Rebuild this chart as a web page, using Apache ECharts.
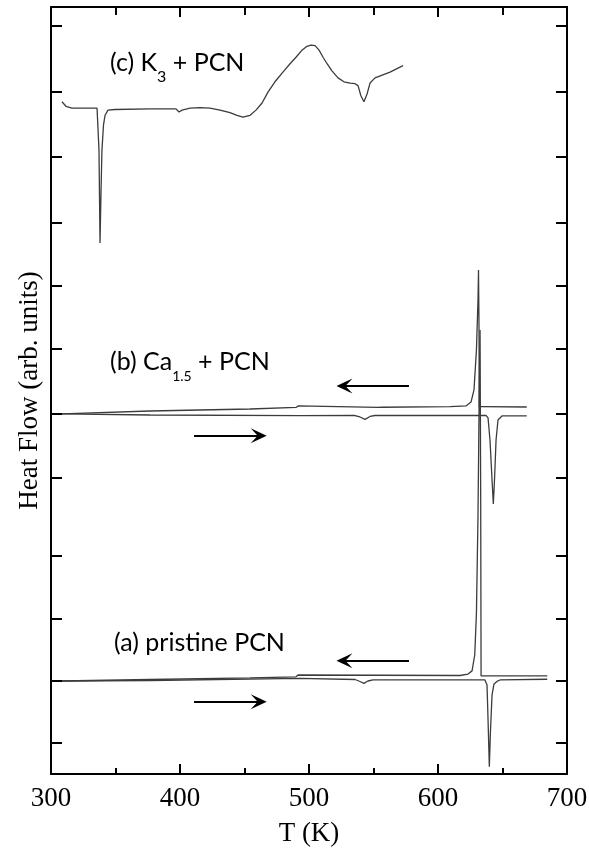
<!DOCTYPE html>
<html>
<head>
<meta charset="utf-8">
<script src="https://cdn.jsdelivr.net/npm/echarts@6/dist/echarts.min.js"></script>
<style>
html, body { margin: 0; padding: 0; background: #fff; }
#chart { width: 589px; height: 849px; }
</style>
</head>
<body>
<div id="chart"></div>
<script>
// DSC scans: temperature (K) and heat flow (arb. units, stacked offsets)
const k3T  = [308.5, 311.6, 316.3, 330.2, 335.7, 336.7, 337.2, 338.0, 338.8, 339.5, 340.7, 341.9, 344.2, 349.6,
              376.7, 396.9, 399.2, 400.0, 401.6, 407.8, 415.5, 423.3, 431.0, 438.8, 444.2, 448.8, 454.3, 458.9,
              463.6, 468.2, 473.6, 479.8, 485.3, 489.9, 494.6, 498.4, 501.6, 504.7, 507.8, 510.9, 514.0, 517.8,
              522.5, 527.1, 531.8, 535.7, 538.0, 540.3, 542.6, 545.0, 547.3, 551.2, 562.8, 572.9];
const k3HF = [10.43, 10.36, 10.33, 10.33, 10.33, 10.32, 9.68, 8.24, 9.06, 9.68, 10.07, 10.22, 10.30, 10.31,
              10.32, 10.32, 10.27, 10.26, 10.30, 10.33, 10.34, 10.33, 10.30, 10.26, 10.22, 10.19, 10.22, 10.30,
              10.41, 10.58, 10.74, 10.89, 11.02, 11.12, 11.23, 11.29, 11.31, 11.30, 11.23, 11.12, 11.02, 10.91,
              10.80, 10.74, 10.72, 10.71, 10.68, 10.52, 10.43, 10.55, 10.72, 10.80, 10.89, 10.99];

const caCoolT  = [308.5, 376.7, 454.3, 489.9, 491.5, 493.0, 553.5, 555.0, 556.6, 609.3, 621.7, 625.6, 627.9,
                  629.8, 631.0, 631.4, 631.8, 632.0, 634.1, 668.8];
const caCoolHF = [5.586, 5.632, 5.663, 5.687, 5.710, 5.690, 5.687, 5.702, 5.690, 5.699, 5.71, 5.77, 5.96,
                  6.58, 7.35, 7.82, 6.89, 5.70, 5.70, 5.694];

const caHeatT  = [308.5, 376.7, 493.0, 535.7, 539.5, 543.4, 547.3, 551.2, 637.2, 638.8, 640.3, 641.9, 642.9,
                  643.8, 645.0, 646.5, 649.6, 668.8];
const caHeatHF = [5.586, 5.570, 5.559, 5.562, 5.539, 5.503, 5.547, 5.562, 5.565, 5.524, 5.182, 4.562, 4.189,
                  4.562, 5.182, 5.493, 5.555, 5.555];

const pcnCoolT  = [308.5, 376.7, 454.3, 489.9, 491.5, 493.0, 617.1, 623.3, 626.4, 628.5, 629.8, 631.0, 632.0,
                   632.6, 633.1, 633.4, 684.7];
const pcnCoolHF = [1.443, 1.466, 1.490, 1.508, 1.536, 1.513, 1.528, 1.55, 1.60, 1.85, 2.5, 4.0, 6.0,
                   6.889, 4.251, 1.521, 1.521];

const pcnHeatT  = [308.5, 376.7, 493.0, 535.7, 539.5, 542.6, 545.7, 549.6, 636.4, 638.0, 638.8, 639.8, 640.7,
                   641.9, 643.4, 645.7, 648.1, 684.7];
const pcnHeatHF = [1.443, 1.451, 1.485, 1.466, 1.435, 1.407, 1.443, 1.459, 1.459, 1.381, 0.838, 0.113, 0.683,
                   1.226, 1.397, 1.436, 1.459, 1.470];

// Scan-direction arrows: [start T, end T, heat-flow level]
const coolArrows = [[577.5, 527.5, 6.02], [577.5, 527.5, 1.758]];
const heatArrows = [[410.9, 461.0, 5.249], [410.9, 461.0, 1.122]];

// Axis ticks
const xTickStep = 100;
const yTickValues = [0.48, 1.443, 2.405, 3.38, 4.59, 5.585, 6.594, 7.572, 8.549, 9.573, 10.58, 11.606];
const yMax = 11.9;

const zip = (xs, ys) => xs.map((x, i) => [x, ys[i]]);
const curveColor = '#3c3c3c';
const serif = 'Liberation Serif';
const sans = 'Lato';

function curve(name, xs, ys) {
  return {
    name, type: 'line', data: zip(xs, ys), showSymbol: false, smooth: false,
    lineStyle: { color: curveColor, width: 1.3 }, silent: true, animation: false
  };
}

const arrowHead = 'path://M7.5,0 L15,16 L7.5,9 L0,16 Z';
function arrowLines(list) {
  return list.map(([t0, t1, h]) => [{ coord: [t0, h] }, { coord: [t1, h] }]);
}

const xCommon = {
  type: 'value', min: 300, max: 700, interval: xTickStep,
  splitLine: { show: false },
  axisLine: { show: true, onZero: false, lineStyle: { color: '#000', width: 2 } }
};
const yCommon = {
  type: 'value', min: 0, max: yMax,
  splitLine: { show: false },
  axisLabel: { show: false },
  axisLine: { show: true, onZero: false, lineStyle: { color: '#000', width: 2 } },
  axisTick: { show: true, inside: true, length: 11, customValues: yTickValues, lineStyle: { color: '#000', width: 2 } }
};

const chart = echarts.init(document.getElementById('chart'), null, { renderer: 'canvas' });
chart.setOption({
  animation: false,
  backgroundColor: '#fff',
  grid: { left: 51, right: 22, top: 7, bottom: 75, outerBoundsMode: 'none' },
  xAxis: [
    Object.assign({}, xCommon, {
      position: 'bottom',
      name: 'T (K)', nameLocation: 'middle', nameGap: 46,
      nameTextStyle: { fontFamily: serif, fontSize: 27, color: '#000' },
      axisLabel: { show: true, margin: 11, fontFamily: serif, fontSize: 27, color: '#000' },
      axisTick: { show: true, inside: true, length: 10, lineStyle: { color: '#000', width: 2 } },
      minorTick: { show: true, splitNumber: 2, length: 6, lineStyle: { color: '#000', width: 2 } }
    }),
    Object.assign({}, xCommon, {
      position: 'top',
      axisLabel: { show: false },
      axisTick: { show: true, inside: true, length: 10, lineStyle: { color: '#000', width: 2 } },
      minorTick: { show: true, splitNumber: 2, length: 8, lineStyle: { color: '#000', width: 2 } }
    })
  ],
  yAxis: [
    Object.assign({}, yCommon, {
      position: 'left',
      name: 'Heat Flow (arb. units)', nameLocation: 'middle', nameRotate: 90, nameGap: 8,
      nameTextStyle: { fontFamily: serif, fontSize: 27, color: '#000' }
    }),
    Object.assign({}, yCommon, { position: 'right' })
  ],
  series: [
    curve('K3 + PCN', k3T, k3HF),
    curve('Ca1.5 + PCN cooling', caCoolT, caCoolHF),
    curve('Ca1.5 + PCN heating', caHeatT, caHeatHF),
    curve('PCN cooling', pcnCoolT, pcnCoolHF),
    curve('PCN heating', pcnHeatT, pcnHeatHF),
    {
      type: 'line', data: [], silent: true,
      markLine: {
        silent: true, animation: false,
        symbol: ['none', arrowHead], symbolSize: [15, 16],
        label: { show: false },
        lineStyle: { color: '#000', width: 2, type: 'solid' },
        emphasis: { disabled: true },
        data: arrowLines(coolArrows).concat(arrowLines(heatArrows))
      }
    }
  ],
  graphic: [
    {
      type: 'text', left: 110, top: 72 - 22, silent: true,
      style: {
        text: '{m|(c) K}{s|3}{m| + PCN}',
        rich: {
          m: { fontFamily: sans, fontSize: 25, lineHeight: 44, fill: '#000' },
          s: { fontFamily: sans, fontSize: 16, lineHeight: 1, verticalAlign: 'bottom', fill: '#000' }
        }
      }
    },
    {
      type: 'text', left: 110, top: 371 - 22, silent: true,
      style: {
        text: '{m|(b) Ca}{s|1.5}{m| + PCN}',
        rich: {
          m: { fontFamily: sans, fontSize: 25, lineHeight: 44, fill: '#000' },
          s: { fontFamily: sans, fontSize: 14, lineHeight: 34, verticalAlign: 'bottom', fill: '#000' }
        }
      }
    },
    {
      type: 'text', left: 114, top: 652 - 22, silent: true,
      style: {
        text: '{m|(a) pristine PCN}',
        rich: { m: { fontFamily: sans, fontSize: 25, lineHeight: 44, fill: '#000' } }
      }
    }
  ]
});
</script>
</body>
</html>
